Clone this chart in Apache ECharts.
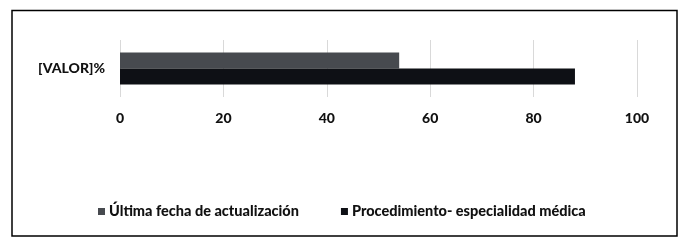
<!DOCTYPE html>
<html><head><meta charset="utf-8">
<script src="https://cdn.jsdelivr.net/npm/echarts@6/dist/echarts.min.js"></script>
<style>html,body{margin:0;padding:0;background:#fff}#c{width:684px;height:246px}</style>
</head><body><div id="c"></div>
<script>
const categories = ['[VALOR]%'];
const seriesNames = ['Última fecha de actualización', 'Procedimiento- especialidad médica'];
const ultimaFecha = [54];
const procedimiento = [88];
const xTicks = [0, 20, 40, 60, 80, 100];

const font = 'Lato, "Open Sans", sans-serif';
const chart = echarts.init(document.getElementById('c'));
chart.setOption({
  animation: false,
  graphic: [{type:'rect', shape:{x:12, y:10.5, width:665, height:225.5}, style:{fill:null, stroke:'#000', lineWidth:1.5}}],
  grid: {left:120, right:47, top:40, bottom:149},
  legend: {
    left: 93, top: 199, itemWidth: 7, itemHeight: 7, itemGap: 42,
    icon: 'rect',
    textStyle: {fontFamily: font, fontWeight: 900, fontSize: 14.5, color: '#111', padding:[0,0,0,-1]},
    data: seriesNames
  },
  xAxis: {
    type: 'value', min: xTicks[0], max: xTicks[xTicks.length-1], interval: 20,
    axisLine: {show:false}, axisTick: {show:false},
    splitLine: {lineStyle: {color:'#d9d9d9', width:1}},
    axisLabel: {fontFamily: font, fontWeight:900, fontSize:14, color:'#111', margin:14}
  },
  yAxis: {
    type: 'category', data: categories, inverse: true,
    axisLine: {show:false}, axisTick: {show:false},
    axisLabel: {fontFamily: font, fontWeight:900, fontSize:14, color:'#111', margin:15}
  },
  series: [
    {name: seriesNames[0], type:'bar', data: ultimaFecha, barWidth:16, barGap:'0%', itemStyle:{color:'#474a4f'}},
    {name: seriesNames[1], type:'bar', data: procedimiento, barWidth:16, barGap:'0%', itemStyle:{color:'#0e1015'}}
  ]
});
</script></body></html>
